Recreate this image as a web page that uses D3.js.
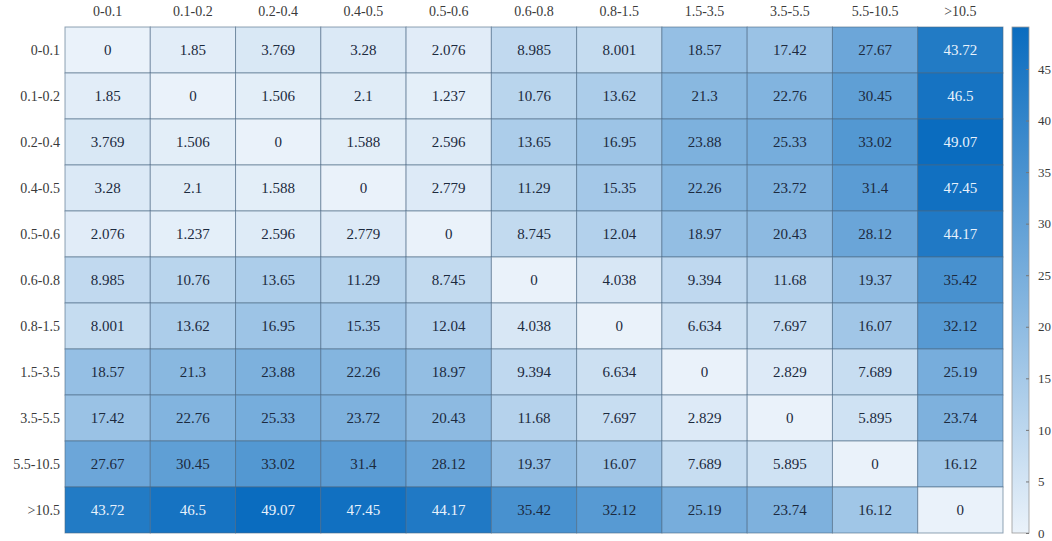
<!DOCTYPE html>
<meta charset="utf-8">
<style>
body { margin: 0; background: #fff; }
text { font-family: "Liberation Serif", "DejaVu Serif", serif; }
</style>
<svg width="1052" height="541"></svg>
<script src="https://d3js.org/d3.v7.min.js"></script>
<script>

var labels = ["0-0.1", "0.1-0.2", "0.2-0.4", "0.4-0.5", "0.5-0.6", "0.6-0.8", "0.8-1.5", "1.5-3.5", "3.5-5.5", "5.5-10.5", ">10.5"];

var values = [
  [0, 1.85, 3.769, 3.28, 2.076, 8.985, 8.001, 18.57, 17.42, 27.67, 43.72],
  [1.85, 0, 1.506, 2.1, 1.237, 10.76, 13.62, 21.3, 22.76, 30.45, 46.5],
  [3.769, 1.506, 0, 1.588, 2.596, 13.65, 16.95, 23.88, 25.33, 33.02, 49.07],
  [3.28, 2.1, 1.588, 0, 2.779, 11.29, 15.35, 22.26, 23.72, 31.4, 47.45],
  [2.076, 1.237, 2.596, 2.779, 0, 8.745, 12.04, 18.97, 20.43, 28.12, 44.17],
  [8.985, 10.76, 13.65, 11.29, 8.745, 0, 4.038, 9.394, 11.68, 19.37, 35.42],
  [8.001, 13.62, 16.95, 15.35, 12.04, 4.038, 0, 6.634, 7.697, 16.07, 32.12],
  [18.57, 21.3, 23.88, 22.26, 18.97, 9.394, 6.634, 0, 2.829, 7.689, 25.19],
  [17.42, 22.76, 25.33, 23.72, 20.43, 11.68, 7.697, 2.829, 0, 5.895, 23.74],
  [27.67, 30.45, 33.02, 31.4, 28.12, 19.37, 16.07, 7.689, 5.895, 0, 16.12],
  [43.72, 46.5, 49.07, 47.45, 44.17, 35.42, 32.12, 25.19, 23.74, 16.12, 0]
];

var colorTicks = [0, 5, 10, 15, 20, 25, 30, 35, 40, 45];
var vmax = 49.07;

var svg = d3.select("svg"),
    gLeft = 65, gTop = 27, gRight = 1003, gBottom = 533;

var x = d3.scaleBand().domain(labels).range([gLeft, gRight]);
var y = d3.scaleBand().domain(labels).range([gTop, gBottom]);
var color = d3.scaleLinear().domain([0, vmax]).range(["#eaf2fa", "#0a6cbf"]);

var cells = [];
values.forEach(function(row, i) {
  row.forEach(function(v, j) { cells.push({r: labels[i], c: labels[j], v: v}); });
});

svg.append("g").selectAll("rect")
  .data(cells)
  .enter().append("rect")
    .attr("x", function(d) { return x(d.c); })
    .attr("y", function(d) { return y(d.r); })
    .attr("width", x.bandwidth())
    .attr("height", y.bandwidth())
    .attr("fill", function(d) { return color(d.v); })
    .attr("stroke", "#4a6884")
    .attr("stroke-opacity", 0.6)
    .attr("stroke-width", 1);

svg.append("g").selectAll("text")
  .data(cells)
  .enter().append("text")
    .attr("x", function(d) { return x(d.c) + x.bandwidth() / 2; })
    .attr("y", function(d) { return y(d.r) + y.bandwidth() / 2; })
    .attr("dy", "0.35em")
    .attr("text-anchor", "middle")
    .style("font-size", "15px")
    .attr("fill", function(d) { return d.v > 40 ? "#e8f2fc" : "#1c2a3e"; })
    .text(function(d) { return d.v; });

svg.append("g").selectAll("text")
  .data(labels)
  .enter().append("text")
    .attr("x", function(d) { return x(d) + x.bandwidth() / 2; })
    .attr("y", 16)
    .attr("text-anchor", "middle")
    .style("font-size", "14px")
    .attr("fill", "#3a3a3a")
    .text(function(d) { return d; });

svg.append("g").selectAll("text")
  .data(labels)
  .enter().append("text")
    .attr("x", 60)
    .attr("y", function(d) { return y(d) + y.bandwidth() / 2; })
    .attr("dy", "0.35em")
    .attr("text-anchor", "end")
    .style("font-size", "14px")
    .attr("fill", "#3a3a3a")
    .text(function(d) { return d; });

// colour bar
var cb = svg.append("g");
var cy = d3.scaleLinear().domain([0, vmax]).range([gBottom, gTop]);
var grad = svg.append("defs").append("linearGradient")
    .attr("id", "cbar").attr("x1", 0).attr("y1", 1).attr("x2", 0).attr("y2", 0);
grad.append("stop").attr("offset", 0).attr("stop-color", color(0));
grad.append("stop").attr("offset", 1).attr("stop-color", color(vmax));

cb.append("rect")
    .attr("x", 1012).attr("y", gTop)
    .attr("width", 17).attr("height", gBottom - gTop)
    .attr("fill", "url(#cbar)")
    .attr("stroke", "#999").attr("stroke-width", 0.8);

var axis = cb.append("g")
    .attr("transform", "translate(1029,0)")
    .call(d3.axisRight(cy).tickValues(colorTicks).tickSize(3).tickPadding(6));
axis.select(".domain").remove();
axis.selectAll("line").attr("stroke", "#777").attr("transform", "translate(-3,0)");
axis.selectAll("text")
    .style("font-family", "'Liberation Serif', serif")
    .style("font-size", "13px")
    .attr("fill", "#3a3a3a");

</script>
